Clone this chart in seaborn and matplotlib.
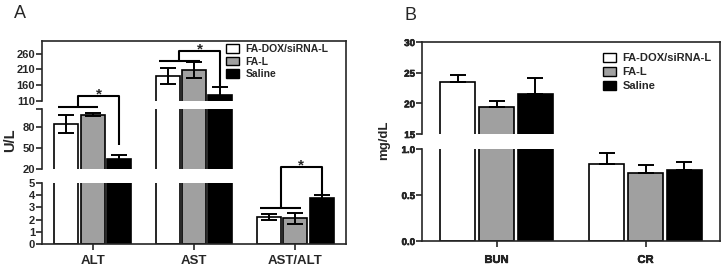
import numpy as np
import pandas as pd
import matplotlib
matplotlib.use("Agg")
import matplotlib.pyplot as plt
import matplotlib.patheffects as pe
import seaborn as sns
from matplotlib.patches import Patch

# ---------------- data ----------------
groups = ["FA-DOX/siRNA-L", "FA-L", "Saline"]

a_tests = ["ALT", "AST", "AST/ALT"]
a_mean_fadox = [84, 190, 2.25]
a_mean_fal = [97, 208, 2.1]
a_mean_saline = [34, 130, 3.8]
a_err_fadox = [13, 26, 0.25]
a_err_fal = [2, 25, 0.45]
a_err_saline = [6, 25, 0.2]

b_tests = ["BUN", "CR"]
b_mean_fadox = [23.5, 0.84]
b_mean_fal = [19.4, 0.74]
b_mean_saline = [21.5, 0.77]
b_err_fadox = [1.1, 0.12]
b_err_fal = [1.0, 0.09]
b_err_saline = [2.7, 0.09]

a_segments_ticks = [[0, 1, 2, 3, 4, 5], [20, 50, 80, 105], [110, 160, 210, 260]]
a_segments_labels = [["0", "1", "2", "3", "4", "5"], ["20", "50", "80", ""], ["110", "160", "210", "260"]]
a_segments_lim = [(0, 5), (20, 105), (110, 300)]

b_segments_ticks = [[0, 0.5, 1.0], [15, 20, 25, 30]]
b_segments_labels = [["0.0", "0.5", "1.0"], ["15", "20", "25", "30"]]
b_segments_lim = [(0, 1.0), (15, 30)]

colors = ["white", "#a0a0a0", "black"]

dfA = pd.DataFrame({
    "test": a_tests * 3,
    "group": [g for g in groups for _ in a_tests],
    "value": a_mean_fadox + a_mean_fal + a_mean_saline,
})
errA = [a_err_fadox, a_err_fal, a_err_saline]
dfB = pd.DataFrame({
    "test": b_tests * 3,
    "group": [g for g in groups for _ in b_tests],
    "value": b_mean_fadox + b_mean_fal + b_mean_saline,
})
errB = [b_err_fadox, b_err_fal, b_err_saline]

# ---------------- style ----------------
sns.set_style("white")
plt.rcParams["font.family"] = ["Liberation Sans", "DejaVu Sans"]
plt.rcParams["font.weight"] = "bold"

W, H = 723, 268
fig = plt.figure(figsize=(W / 100, H / 100), dpi=100)


def fax(x0, y_top, x1, y_bot):
    return fig.add_axes([x0 / W, 1 - y_bot / H, (x1 - x0) / W, (y_bot - y_top) / H])


LW = 1.2
STROKE = [pe.withStroke(linewidth=0.4, foreground="black")]


def draw_segment(ax, df, tests, errs, ylim, ticks, labels, is_bottom, onesided,
                 tick_fs, xtick_fs, xpad, thicken=False):
    sns.barplot(data=df, x="test", y="value", hue="group", order=tests,
                hue_order=groups, palette=colors, saturation=1,
                edgecolor="black", linewidth=LW, width=0.78, gap=0.1,
                errorbar=None, legend=False, ax=ax)
    for cont, err in zip(ax.containers, errs):
        xs = [p.get_x() + p.get_width() / 2 for p in cont]
        ys = [p.get_height() for p in cont]
        if onesided:
            yerr = [np.zeros(len(err)), err]
        else:
            yerr = err
        ax.errorbar(xs, ys, yerr=yerr, fmt="none", ecolor="black",
                    elinewidth=LW + 0.2, capsize=5.5, capthick=LW + 0.2, zorder=5)
    ax.set_xlim(-0.5, len(tests) - 0.5)
    ax.set_ylim(*ylim)
    ax.set_yticks(ticks)
    ax.set_yticklabels(labels, fontsize=tick_fs, fontweight="bold")
    ax.set_xlabel("")
    ax.set_ylabel("")
    ax.set_facecolor("none")
    for s in ["top", "right"]:
        ax.spines[s].set_visible(False)
    ax.spines["left"].set_linewidth(LW)
    ax.spines["bottom"].set_linewidth(LW)
    ax.tick_params(axis="y", direction="out", length=4, width=LW, pad=1, left=True)
    if is_bottom:
        ax.tick_params(axis="x", direction="out", length=4, width=LW, pad=xpad, bottom=True)
        ax.set_xticks(range(len(tests)))
        ax.set_xticklabels(tests, fontsize=xtick_fs, fontweight="bold")
    else:
        ax.spines["bottom"].set_visible(False)
        ax.set_xticks([])
    for lbl in ax.get_yticklabels() + ax.get_xticklabels():
        lbl.set_fontweight("bold")
        if thicken:
            lbl.set_path_effects(STROKE)


def frame(x0, y_top, x1, y_bot):
    f = fax(x0, y_top, x1, y_bot)
    f.set_facecolor("none")
    f.set_xticks([])
    f.set_yticks([])
    for s in ["left", "bottom"]:
        f.spines[s].set_visible(False)
    for s in ["top", "right"]:
        f.spines[s].set_linewidth(LW)
    return f


def bracket(ax, i, y_low, y_high, y_drop):
    w = ax.containers[0][i]
    g = ax.containers[1][i]
    b = ax.containers[2][i]
    cw = w.get_x() + w.get_width() / 2
    cg = g.get_x() + g.get_width() / 2
    cb = b.get_x() + b.get_width() / 2
    x_l, x_r = cw - 0.085, cg + 0.055
    mid = (x_l + x_r) / 2
    kw = dict(color="black", lw=LW + 0.3, clip_on=False, zorder=6, solid_capstyle="butt")
    ax.plot([x_l, x_r], [y_low, y_low], **kw)
    ax.plot([mid, mid, cb, cb], [y_low, y_high, y_high, y_drop], **kw)
    ax.annotate("*", xy=((mid + cb) / 2, y_high), xytext=(0, -2),
                textcoords="offset points", ha="center", va="baseline",
                fontsize=11, fontweight="bold", annotation_clip=False)


# ---------------- panel A ----------------
AX0, AX1 = 42, 346
a_pix = [(183, 244), (109, 169), (41, 101)]
axesA = []
for k, (yt, yb) in enumerate(a_pix):
    ax = fax(AX0, yt, AX1, yb)
    draw_segment(ax, dfA, a_tests, errA, a_segments_lim[k], a_segments_ticks[k],
                 a_segments_labels[k], k == 0, False, 8, 9.5, 4)
    axesA.append(ax)
frame(AX0, 41, AX1, 244)

bracket(axesA[1], 0, 108.2, 123.8, 54)
bracket(axesA[2], 1, 237.6, 269.3, 158.4)
bracket(axesA[0], 2, 2.95, 6.31, 4.02)

handles = [Patch(facecolor=c, edgecolor="black", linewidth=1) for c in colors]
fig.legend(handles, groups, loc="upper left", bbox_to_anchor=(226 / W, 1 - 44 / H),
           frameon=False, borderaxespad=0, borderpad=0,
           handlelength=1.25, handleheight=0.9, handletextpad=0.6,
           labelspacing=0.25, prop={"weight": "bold", "size": 7.5})

fig.text(10 / W, 1 - 140 / H, "U/L", rotation=90, ha="center", va="center",
         fontsize=10.5, fontweight="bold")
fig.text(20 / W, 1 - 14 / H, "A", ha="center", va="center", fontsize=13,
         fontweight="normal")

# ---------------- panel B ----------------
BX0, BX1 = 422, 720
b_pix = [(149, 241), (42, 134)]
axesB = []
for k, (yt, yb) in enumerate(b_pix):
    ax = fax(BX0, yt, BX1, yb)
    draw_segment(ax, dfB, b_tests, errB, b_segments_lim[k], b_segments_ticks[k],
                 b_segments_labels[k], k == 0, True, 7, 8, 6, thicken=True)
    axesB.append(ax)
frame(BX0, 42, BX1, 241)

fig.legend(handles, groups, loc="upper left", bbox_to_anchor=(603 / W, 1 - 53 / H),
           frameon=False, borderaxespad=0, borderpad=0,
           handlelength=1.2, handleheight=0.9, handletextpad=0.55,
           labelspacing=0.3, prop={"weight": "bold", "size": 8})

fig.text(384 / W, 1 - 140 / H, "mg/dL", rotation=90, ha="center", va="center",
         fontsize=9.5, fontweight="bold")
fig.text(411 / W, 1 - 15 / H, "B", ha="center", va="center", fontsize=13,
         fontweight="normal")

fig.savefig("out.png", dpi=100, facecolor="white")
